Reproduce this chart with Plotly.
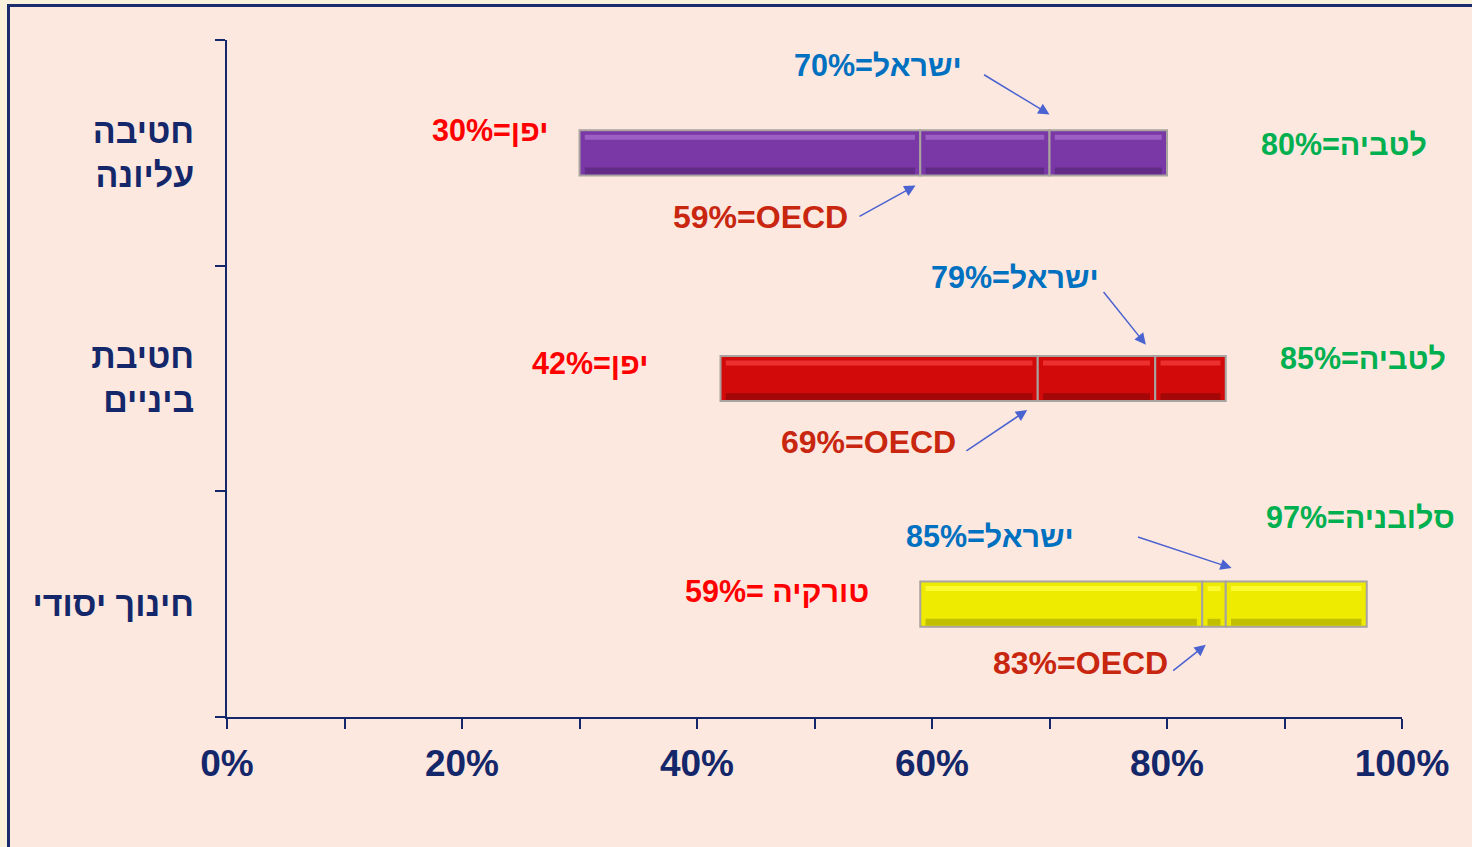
import plotly.graph_objects as go

# ---- data ----
categories = ["חינוך יסודי", "חטיבת<br>ביניים", "חטיבה<br>עליונה"]
min_vals = [59, 42, 30]
oecd_vals = [83, 69, 59]
israel_vals = [85, 79, 70]
max_vals = [97, 85, 80]
bar_colors = ["#EEEA00", "#D20A0A", "#7A38A6"]
light_colors = ["#FFFF40", "#F23A3A", "#A46ACC"]
dark_colors = ["#9E9A00", "#7E0606", "#4E2070"]

min_labels = ["59%= טורקיה", "42%=יפן", "30%=יפן"]
oecd_labels = ["83%=OECD", "69%=OECD", "59%=OECD"]
israel_labels = ["85%=ישראל", "79%=ישראל", "70%=ישראל"]
max_labels = ["97%=סלובניה", "85%=לטביה", "80%=לטביה"]

x_tickvals = [0, 10, 20, 30, 40, 50, 60, 70, 80, 90, 100]
x_ticktext = ["0%", "", "20%", "", "40%", "", "60%", "", "80%", "", "100%"]

NAVY = "#14276A"
FONT = "Liberation Sans, Arial, sans-serif"

fig = go.Figure()
segments = [
    (min_vals, oecd_vals),
    (oecd_vals, israel_vals),
    (israel_vals, max_vals),
]
for lo, hi in segments:
    widths = [h - l for l, h in zip(lo, hi)]
    fig.add_trace(go.Bar(
        y=categories, x=widths, base=lo, orientation="h",
        width=0.2, offset=-0.1,
        marker=dict(color=bar_colors, line=dict(color="#A9A3A0", width=2)),
        showlegend=False, hoverinfo="skip",
    ))
    # bevel highlight (top) and shadow (bottom)
    inner_w = [w - 0.9 for w in widths]
    inner_b = [l + 0.45 for l in lo]
    fig.add_trace(go.Bar(
        y=categories, x=inner_w, base=inner_b, orientation="h",
        width=0.022, offset=0.058,
        marker=dict(color=light_colors, line=dict(width=0)),
        opacity=0.8, showlegend=False, hoverinfo="skip",
    ))
    fig.add_trace(go.Bar(
        y=categories, x=inner_w, base=inner_b, orientation="h",
        width=0.03, offset=-0.095,
        marker=dict(color=dark_colors, line=dict(width=0)),
        opacity=0.55, showlegend=False, hoverinfo="skip",
    ))

# label positions (data units) for each category
min_pos = [(46.8, 0.06), (30.9, 1.07), (22.4, 2.10)]
max_pos = [(96.5, 0.385), (96.7, 1.09), (95.1, 2.04)]
isr_pos = [(64.9, 0.30), (67.1, 1.45), (55.4, 2.39)]
oecd_pos = [(72.6, -0.26), (54.6, 0.72), (45.4, 1.715)]
isr_arrow = [((77.4, 0.30), (85.5, 0.16)), ((74.5, 1.39), (78.2, 1.15)), ((64.3, 2.35), (70.0, 2.17))]
oecd_arrow = [((80.4, -0.30), (83.3, -0.18)), ((62.8, 0.675), (68.1, 0.86)), ((53.7, 1.715), (58.6, 1.855))]

anns = []
def txt(x, y, t, color, size):
    anns.append(dict(x=x, y=y, xref="x", yref="y", text=t, showarrow=False,
                     font=dict(family=FONT, size=size, color=color, weight="bold")))

for i in range(3):
    txt(*min_pos[i], min_labels[i], "#FF0000", 30.5)
    txt(*max_pos[i], max_labels[i], "#00B050", 30.5)
    txt(*isr_pos[i], israel_labels[i], "#0070C0", 30.5)
    txt(*oecd_pos[i], oecd_labels[i], "#C8260F", 32)
    for (tail, head) in (isr_arrow[i], oecd_arrow[i]):
        anns.append(dict(x=head[0], y=head[1], ax=tail[0], ay=tail[1],
                         xref="x", yref="y", axref="x", ayref="y",
                         text="", showarrow=True, arrowhead=2, arrowsize=1.5,
                         arrowwidth=1.5, arrowcolor="#4A63D0"))

fig.update_layout(
    width=1472, height=847,
    margin=dict(l=227, r=70, t=40, b=130),
    paper_bgcolor="#FAF1DC",
    plot_bgcolor="rgba(0,0,0,0)",
    barmode="overlay",
    annotations=anns,
    shapes=[dict(type="rect", xref="paper", yref="paper",
                 x0=(8.5 - 227) / 1175, x1=(1490 - 227) / 1175,
                 y0=(717 - 870) / 677, y1=(717 - 5.5) / 677,
                 fillcolor="#FDE8DF", line=dict(color="#1A2C6E", width=3),
                 layer="below")],
    xaxis=dict(range=[0, 100], tickvals=x_tickvals, ticktext=x_ticktext,
               ticks="outside", ticklen=10, tickwidth=2, tickcolor=NAVY,
               showline=True, linecolor=NAVY, linewidth=2, showgrid=False,
               zeroline=False,
               tickfont=dict(family=FONT, size=37, color=NAVY, weight="bold"),
               ticklabelstandoff=3),
    yaxis=dict(type="category", categoryorder="array", categoryarray=categories,
               range=[-0.5, 2.5], tickson="boundaries",
               ticks="outside", ticklen=10, tickwidth=2, tickcolor=NAVY,
               showline=True, linecolor=NAVY, linewidth=2, showgrid=False,
               tickfont=dict(family=FONT, size=34, color=NAVY, weight="bold"),
               ticklabelstandoff=24),
)

fig.write_html("out.html", config={"displayModeBar": False},
               post_script="document.body.style.margin='0px';")
